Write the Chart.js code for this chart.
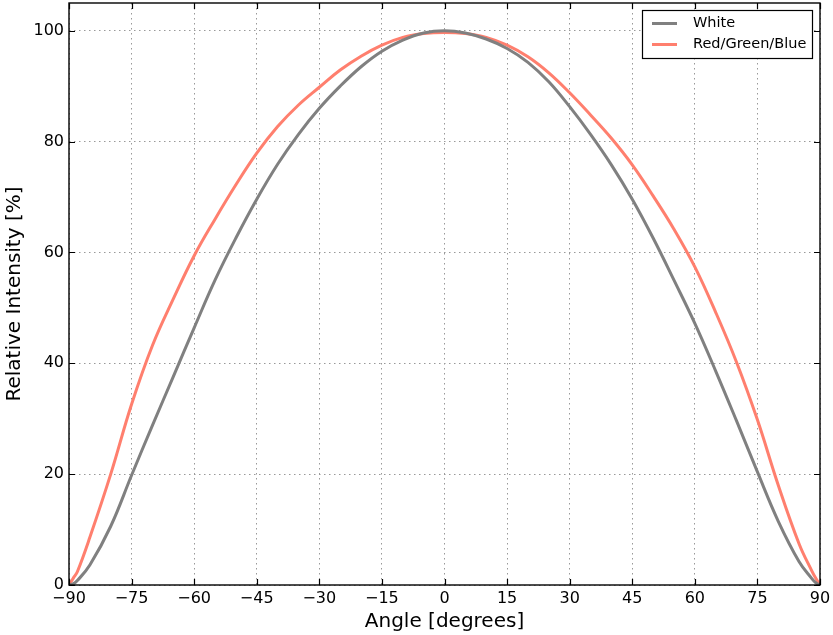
<!DOCTYPE html>
<html>
<head>
<meta charset="utf-8">
<script src="https://cdn.jsdelivr.net/npm/chart.js@4/dist/chart.umd.min.js"></script>
<style>
  html, body { margin: 0; padding: 0; background: #fff; }
  #wrap { width: 833px; height: 635px; }
</style>
</head>
<body>
<div id="wrap"><canvas id="chart" width="833" height="635"></canvas></div>
<script>
// angle in degrees
var angles = [-90, -89, -88, -85, -80, -75, -70, -65, -60, -55, -50, -45, -40, -35, -30, -25, -20, -15, -10, -5,
              0, 5, 10, 15, 20, 25, 30, 35, 40, 45, 50, 55, 60, 65, 70, 75, 80, 85, 88, 89, 90];
// relative intensity [%]
var white = [0, 0.2, 0.8, 3.6, 10.6, 19.8, 28.8, 37.6, 46.4, 55.0, 62.6, 69.6, 75.9, 81.3, 86.0, 90.0, 93.5, 96.3, 98.3, 99.6,
             100, 99.6, 98.5, 96.8, 94.3, 90.8, 86.3, 81.3, 75.8, 69.6, 62.6, 55.0, 47.2, 38.6, 29.6, 20.4, 11.5, 4.2, 1.2, 0.4, 0];
var rgb = [0, 1.2, 2.4, 8.6, 20, 32.6, 43.2, 51.6, 59.4, 66.0, 72.2, 77.9, 82.7, 86.6, 89.8, 92.9, 95.4, 97.4, 98.8, 99.5,
           99.7, 99.5, 98.8, 97.4, 95.3, 92.4, 88.8, 84.8, 80.6, 75.8, 70.2, 64.2, 57.4, 49.2, 40.2, 29.8, 18.0, 7.4, 2.6, 1.2, 0];
var xTicks = [-90, -75, -60, -45, -30, -15, 0, 15, 30, 45, 60, 75, 90];
var yTicks = [0, 20, 40, 60, 80, 100];

var seriesNames = ["White", "Red/Green/Blue"];
var seriesColors = ["#808080", "#ff7f6e"];

function pts(vals) {
    return angles.map(function(a, i) { return {x: a, y: vals[i]}; });
}
function fmt(v) {
    return v < 0 ? "\u2212" + Math.abs(v) : String(v);
}

var FONT = "'DejaVu Sans', sans-serif";

// matplotlib style ticks pointing into the axes, on all four sides
var inwardTicks = {
    id: 'inwardTicks',
    afterDraw: function(chart) {
        var ctx = chart.ctx, a = chart.chartArea, len = 6;
        var xs = chart.scales.x, ys = chart.scales.y;
        ctx.save();
        ctx.strokeStyle = '#000';
        ctx.lineWidth = 1.2;
        ctx.beginPath();
        xTicks.forEach(function(t) {
            var px = Math.round(xs.getPixelForValue(t)) + 0.5;
            ctx.moveTo(px, a.bottom); ctx.lineTo(px, a.bottom - len);
            ctx.moveTo(px, a.top); ctx.lineTo(px, a.top + len);
        });
        yTicks.forEach(function(t) {
            var py = Math.round(ys.getPixelForValue(t)) + 0.5;
            ctx.moveTo(a.left, py); ctx.lineTo(a.left + len, py);
            ctx.moveTo(a.right, py); ctx.lineTo(a.right - len, py);
        });
        ctx.stroke();
        ctx.lineWidth = 1.4;
        ctx.strokeRect(a.left, a.top, a.right - a.left, a.bottom - a.top);
        ctx.restore();
    }
};

// boxed legend in the upper right corner
var boxLegend = {
    id: 'boxLegend',
    afterDraw: function(chart) {
        var ctx = chart.ctx, a = chart.chartArea;
        var w = 170, h = 48;
        var x0 = a.right - 8 - w, y0 = a.top + 7;
        ctx.save();
        ctx.fillStyle = '#fff';
        ctx.fillRect(x0, y0, w, h);
        ctx.strokeStyle = '#000';
        ctx.lineWidth = 1.2;
        ctx.strokeRect(x0 + 0.5, y0 + 0.5, w, h);
        ctx.font = "14.5px " + FONT;
        ctx.textBaseline = 'middle';
        chart.data.datasets.forEach(function(ds, i) {
            var cy = y0 + 13.5 + i * 21;
            ctx.strokeStyle = ds.borderColor;
            ctx.lineWidth = 3;
            ctx.beginPath();
            ctx.moveTo(x0 + 10, cy); ctx.lineTo(x0 + 35, cy);
            ctx.stroke();
            ctx.fillStyle = '#000';
            ctx.fillText(ds.label, x0 + 51, cy);
        });
        ctx.restore();
    }
};

var ctx = document.getElementById("chart").getContext("2d");
var chart = new Chart(ctx, {
    type: 'line',
    data: {
        datasets: [
            {label: seriesNames[0], data: pts(white), borderColor: seriesColors[0], borderWidth: 3,
             pointRadius: 0, tension: 0.4, fill: false},
            {label: seriesNames[1], data: pts(rgb), borderColor: seriesColors[1], borderWidth: 3,
             pointRadius: 0, tension: 0.4, fill: false}
        ]
    },
    options: {
        responsive: false,
        animation: false,
        layout: {padding: {left: 0, right: 13, top: 3, bottom: 0}},
        plugins: {legend: {display: false}, tooltip: {enabled: false}},
        scales: {
            x: {
                type: 'linear', min: -90, max: 90,
                afterBuildTicks: function(s) { s.ticks = xTicks.map(function(v) { return {value: v}; }); },
                afterFit: function(s) { s.height = 50; s.paddingLeft = 0; s.paddingRight = 0; },
                grid: {color: '#999', lineWidth: 1, drawTicks: false},
                border: {display: false, dash: [1.5, 3.5]},
                ticks: {padding: 4, color: '#000', font: {family: FONT, size: 16}, maxRotation: 0,
                        callback: function(v) { return fmt(v); }},
                title: {display: true, text: 'Angle [degrees]', color: '#000',
                        font: {family: FONT, size: 20}, padding: {top: 0, bottom: 1}}
            },
            y: {
                type: 'linear', min: 0, max: 105,
                afterBuildTicks: function(s) { s.ticks = yTicks.map(function(v) { return {value: v}; }); },
                afterFit: function(s) { s.width = 69; s.paddingTop = 0; s.paddingBottom = 0; },
                grid: {color: '#999', lineWidth: 1, drawTicks: false},
                border: {display: false, dash: [1.5, 3.5]},
                ticks: {padding: 5, color: '#000', font: {family: FONT, size: 16},
                        callback: function(v) { return fmt(v); }},
                title: {display: true, text: 'Relative Intensity [%]', color: '#000',
                        font: {family: FONT, size: 20}, padding: {top: 3, bottom: 0}}
            }
        }
    },
    plugins: [inwardTicks, boxLegend]
});
</script>
</body>
</html>
